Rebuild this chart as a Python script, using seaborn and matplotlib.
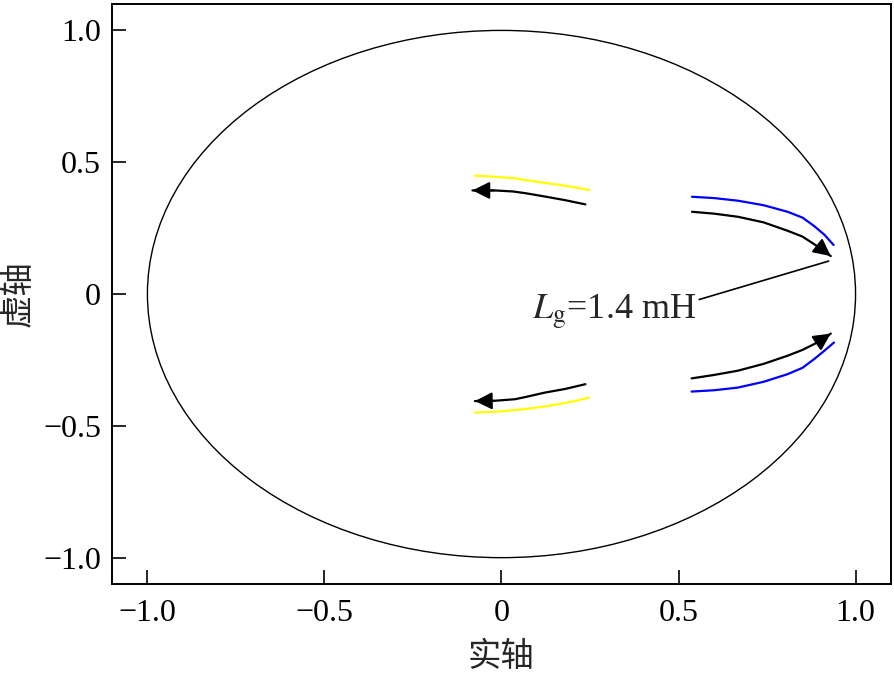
import pandas as pd
import matplotlib
matplotlib.use('Agg')
import matplotlib.pyplot as plt
import seaborn as sns
from matplotlib.patches import Circle

# 根轨迹各分支
yellow_up_x = [-0.076, -0.02, 0.03, 0.076, 0.12, 0.169, 0.21, 0.248]
yellow_up_y = [0.449, 0.445, 0.440, 0.431, 0.422, 0.413, 0.404, 0.395]
yellow_dn_x = [-0.075, 0.0, 0.075, 0.12, 0.169, 0.21, 0.247]
yellow_dn_y = [-0.450, -0.445, -0.435, -0.427, -0.416, -0.405, -0.393]

blue_up_x = [0.538, 0.60, 0.668, 0.74, 0.808, 0.85, 0.882, 0.912, 0.938]
blue_up_y = [0.369, 0.364, 0.354, 0.337, 0.312, 0.290, 0.259, 0.225, 0.186]
blue_dn_x = [0.537, 0.60, 0.667, 0.74, 0.808, 0.85, 0.883, 0.912, 0.939]
blue_dn_y = [-0.370, -0.365, -0.355, -0.333, -0.304, -0.280, -0.247, -0.215, -0.184]

# 箭头方向线
arr_ul_x = [0.237, 0.18, 0.122, 0.07, 0.033, -0.02, -0.082]
arr_ul_y = [0.340, 0.356, 0.370, 0.382, 0.389, 0.393, 0.393]
arr_dl_x = [0.237, 0.18, 0.122, 0.07, 0.038, -0.02, -0.075]
arr_dl_y = [-0.342, -0.360, -0.374, -0.390, -0.399, -0.405, -0.406]
arr_ur_x = [0.538, 0.60, 0.668, 0.74, 0.808, 0.85, 0.882, 0.910, 0.930]
arr_ur_y = [0.312, 0.305, 0.293, 0.272, 0.240, 0.218, 0.190, 0.165, 0.144]
arr_dr_x = [0.537, 0.60, 0.667, 0.74, 0.808, 0.85, 0.883, 0.910, 0.930]
arr_dr_y = [-0.320, -0.307, -0.291, -0.265, -0.234, -0.212, -0.190, -0.168, -0.150]

ticks = [-1.0, -0.5, 0, 0.5, 1.0]
tick_labels = ['\u22121.0', '\u22120.5', '0', '0.5', '1.0']

sns.set_style('ticks')
plt.rcParams['font.family'] = ['Liberation Serif', 'Noto Sans CJK SC', 'DejaVu Sans']
plt.rcParams['mathtext.fontset'] = 'stix'

fig = plt.figure(figsize=(8.94, 6.74), dpi=100)
ax = fig.add_axes([0.1253, 0.1335, 0.8713, 0.8605])

# 单位圆
ax.add_patch(Circle((0, 0), 1.0, fill=False, color='black', lw=1.0))

for xs, ys, c in [(yellow_up_x, yellow_up_y, '#FFFF00'), (yellow_dn_x, yellow_dn_y, '#FFFF00'),
                  (blue_up_x, blue_up_y, '#0000FF'), (blue_dn_x, blue_dn_y, '#0000FF')]:
    sns.lineplot(x=xs, y=ys, sort=False, color=c, lw=1.6, ax=ax)

for xs, ys in [(arr_ul_x, arr_ul_y), (arr_dl_x, arr_dl_y), (arr_ur_x, arr_ur_y), (arr_dr_x, arr_dr_y)]:
    sns.lineplot(x=xs, y=ys, sort=False, color='black', lw=1.6, ax=ax)
    ax.annotate('', xy=(xs[-1], ys[-1]), xytext=(xs[-2], ys[-2]),
                arrowprops=dict(arrowstyle='-|>', color='black', lw=1.5,
                                mutation_scale=26, shrinkA=0, shrinkB=0))

ax.annotate('$L_{\\mathrm{g}}$=1.4 mH', xy=(0.924, 0.125), xytext=(0.085, -0.095),
            fontsize=26, ha='left', va='baseline',
            arrowprops=dict(arrowstyle='-', color='black', lw=1.2,
                            relpos=(1.0, 0.8), shrinkA=0, shrinkB=0))

ax.set_xlim(-1.1, 1.1)
ax.set_ylim(-1.1, 1.1)
ax.set_xticks(ticks)
ax.set_xticklabels(tick_labels)
ax.set_yticks(ticks)
ax.set_yticklabels(tick_labels)
ax.tick_params(direction='in', length=10, width=1.2, labelsize=23, colors='black')
ax.tick_params(axis='x', pad=11)
ax.tick_params(axis='y', pad=8)
for s in ax.spines.values():
    s.set_linewidth(1.4)
    s.set_color('black')

ax.set_xlabel('实轴', fontsize=24, family=['Noto Sans CJK SC'], labelpad=8)
ax.set_ylabel('虚轴', fontsize=24, family=['Noto Sans CJK SC'], labelpad=5)

fig.savefig('out.png', dpi=100)
